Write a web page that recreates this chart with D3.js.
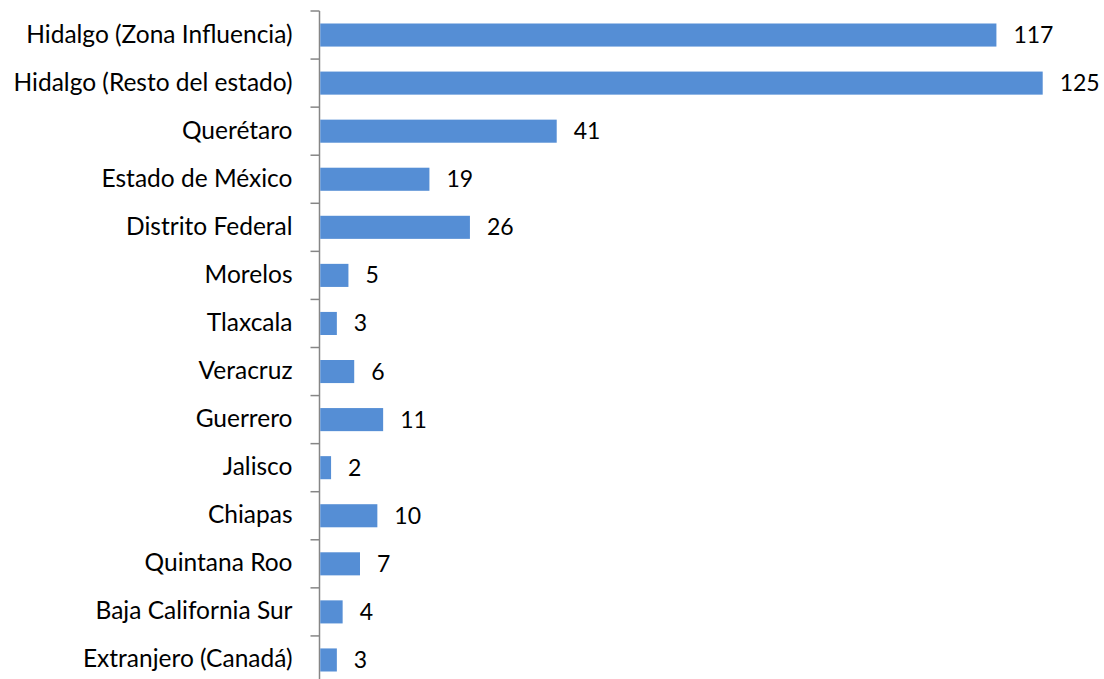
<!DOCTYPE html>
<html><head><meta charset="utf-8">
<script src="https://cdn.jsdelivr.net/npm/d3@7"></script>
<style>body{margin:0;background:#fff}svg{display:block}</style>
</head><body>
<svg id="c" width="1104" height="679"></svg>
<script>
const categories = ["Hidalgo (Zona Influencia)","Hidalgo (Resto del estado)","Querétaro","Estado de México","Distrito Federal","Morelos","Tlaxcala","Veracruz","Guerrero","Jalisco","Chiapas","Quintana Roo","Baja California Sur","Extranjero (Canadá)"];
const values = [117,125,41,19,26,5,3,6,11,2,10,7,4,3];

const svg = d3.select("#c");
const x0 = 319.5;
const x = d3.scaleLinear().domain([0,125]).range([x0, 1042.7]);
const y = d3.scaleBand().domain(categories).range([11, 684]).paddingInner(0.52).paddingOuter(0.26);
const font = "Lato, 'Open Sans', sans-serif";

const step = y.step();
const bounds = d3.range(categories.length + 1).map(i => 11 + i * step);
svg.append("g").selectAll("line").data(bounds).join("line")
  .attr("x1", x0 - 9).attr("x2", x0).attr("y1", d => d).attr("y2", d => d)
  .attr("stroke", "#868686").attr("stroke-width", 1.5);
svg.append("line").attr("x1", x0).attr("x2", x0).attr("y1", 11).attr("y2", 684)
  .attr("stroke", "#868686").attr("stroke-width", 1.5);

svg.append("g").selectAll("rect").data(categories).join("rect")
  .attr("x", x0 + 0.75).attr("y", d => y(d))
  .attr("width", (d,i) => x(values[i]) - x0 - 0.75).attr("height", y.bandwidth())
  .attr("fill", "#558ED5");

svg.append("g").selectAll("text").data(categories).join("text")
  .attr("x", 292.5).attr("y", d => y(d) + y.bandwidth()/2 + 7.5)
  .attr("text-anchor", "end").attr("font-family", font).attr("font-size", 24.5)
  .attr("fill", "#000").text(d => d);

svg.append("g").selectAll("text").data(categories).join("text")
  .attr("x", (d,i) => x(values[i]) + 17).attr("y", d => y(d) + y.bandwidth()/2 + 8)
  .attr("font-family", font).attr("font-size", 23).attr("fill", "#000")
  .text((d,i) => values[i]);
</script>
</body></html>
